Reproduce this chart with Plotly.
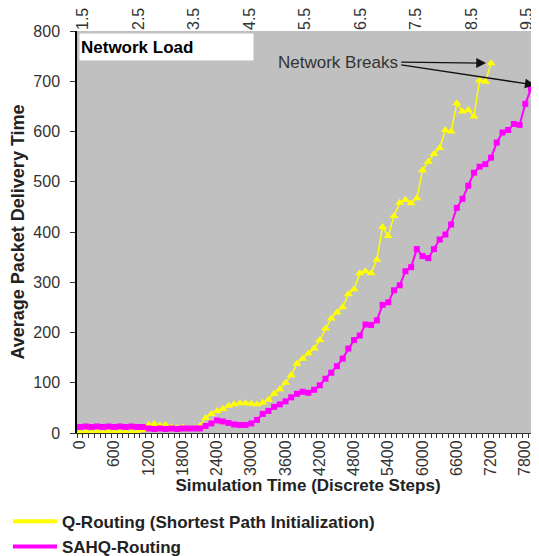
import plotly.graph_objects as go

# ---------------- data ----------------
steps_q = [0, 100, 200, 300, 400, 500, 600, 700, 800, 900,
           1000, 1100, 1200, 1300, 1400, 1500, 1600, 1700, 1800, 1900,
           2000, 2100, 2200, 2300, 2400, 2500, 2600, 2700, 2800, 2900,
           3000, 3100, 3200, 3300, 3400, 3500, 3600, 3700, 3800, 3900,
           4000, 4100, 4200, 4300, 4400, 4500, 4600, 4700, 4800, 4900,
           5000, 5100, 5200, 5300, 5400, 5500, 5600, 5700, 5800, 5900,
           6000, 6100, 6200, 6300, 6400, 6500, 6600, 6700, 6800, 6900,
           7000, 7100, 7200]
q_routing = [1, 3, 2, 3, 2, 3, 2, 3, 2, 3,
             3, 6, 16, 18, 15, 16, 12, 10, 11, 8,
             9, 14, 30, 38, 44, 48, 54, 57, 59, 59,
             58, 57, 60, 66, 78, 87, 100, 115, 138, 148,
             158, 168, 185, 208, 228, 240, 250, 276, 286, 318,
             322, 318, 345, 410, 392, 432, 458, 464, 457, 467,
             523, 540, 555, 567, 603, 600, 656, 640, 643, 630,
             702, 699, 736]

steps_s = [0, 100, 200, 300, 400, 500, 600, 700, 800, 900,
           1000, 1100, 1200, 1300, 1400, 1500, 1600, 1700, 1800, 1900,
           2000, 2100, 2200, 2300, 2400, 2500, 2600, 2700, 2800, 2900,
           3000, 3100, 3200, 3300, 3400, 3500, 3600, 3700, 3800, 3900,
           4000, 4100, 4200, 4300, 4400, 4500, 4600, 4700, 4800, 4900,
           5000, 5100, 5200, 5300, 5400, 5500, 5600, 5700, 5800, 5900,
           6000, 6100, 6200, 6300, 6400, 6500, 6600, 6700, 6800, 6900,
           7000, 7100, 7200, 7300, 7400, 7500, 7600, 7700, 7800, 7900,
           8000]
sahq_routing = [12, 13, 12, 13, 12, 13, 12, 13, 12, 13,
                12, 12, 9, 8, 9, 8, 9, 8, 9, 9,
                9, 9, 14, 19, 25, 23, 20, 17, 16, 16,
                19, 26, 38, 44, 52, 57, 63, 71, 78, 82,
                80, 86, 95, 108, 120, 133, 148, 168, 185, 194,
                216, 215, 224, 255, 260, 284, 294, 322, 330, 366,
                352, 348, 366, 385, 395, 415, 448, 466, 492, 518,
                530, 535, 548, 578, 598, 603, 615, 613, 655, 685,
                692]

time_ticks = [0, 600, 1200, 1800, 2400, 3000, 3600, 4200, 4800,
              5400, 6000, 6600, 7200, 7800]
load_ticks = [1.5, 2.5, 3.5, 4.5, 5.5, 6.5, 7.5, 8.5, 9.5]
y_ticks = [0, 100, 200, 300, 400, 500, 600, 700, 800]

series_names = ["Q-Routing (Shortest Path Initialization)", "SAHQ-Routing"]
colors = ["#FFFF00", "#FF00FF"]

FONT = "Arial, Liberation Sans, sans-serif"

fig = go.Figure()

fig.add_trace(go.Scatter(
    x=steps_q, y=q_routing, mode="lines+markers", name=series_names[0],
    line=dict(color=colors[0], width=1.5),
    marker=dict(symbol="triangle-up", size=8, color=colors[0]),
    cliponaxis=False, showlegend=False))
fig.add_trace(go.Scatter(
    x=steps_s, y=sahq_routing, mode="lines+markers", name=series_names[1],
    line=dict(color=colors[1], width=2),
    marker=dict(symbol="square", size=6, color=colors[1]),
    cliponaxis=False, showlegend=False))

# legend entries (thick line samples)
for nm, c in zip(series_names, colors):
    fig.add_trace(go.Scatter(x=[None], y=[None], mode="lines",
                             name="<b>" + nm + "</b>",
                             line=dict(color=c, width=4)))

# invisible trace to carry the top "Network Load" axis
fig.add_trace(go.Scatter(x=load_ticks, y=[None] * len(load_ticks), xaxis="x2",
                         mode="markers", showlegend=False, hoverinfo="skip"))

# annotations
fig.add_annotation(
    xref="paper", yref="paper", x=0.004, y=0.995, xanchor="left", yanchor="top",
    text="<b>Network Load</b>", showarrow=False, bgcolor="white",
    width=171, height=24, align="left",
    font=dict(family=FONT, size=17, color="black"))

fig.add_annotation(
    x=5600, y=738, xref="x", yref="y", xanchor="right", yanchor="middle",
    text="Network Breaks", showarrow=False,
    font=dict(family=FONT, size=17, color="#333"))

fig.add_annotation(
    x=steps_q[-1], y=q_routing[-1], xref="x", yref="y",
    ax=5600, ay=738, axref="x", ayref="y", text="",
    showarrow=True, arrowhead=2, arrowsize=1.4, arrowwidth=1.4,
    arrowcolor="#111", standoff=5)
fig.add_annotation(
    x=steps_s[-1], y=sahq_routing[-1], xref="x", yref="y",
    ax=5600, ay=733, axref="x", ayref="y", text="",
    showarrow=True, arrowhead=2, arrowsize=1.4, arrowwidth=1.4,
    arrowcolor="#111", standoff=2)

# the page body adds an 8px offset, so the paper is 8px smaller
fig.update_layout(
    width=531, height=548,
    margin=dict(l=69, r=0, t=23, b=123, autoexpand=False),
    paper_bgcolor="white", plot_bgcolor="#C0C0C0",
    font=dict(family=FONT, size=16, color="#222"),
    xaxis=dict(
        range=[-53, 8040], tickmode="array", tickvals=time_ticks,
        ticktext=[str(v) for v in time_ticks], tickangle=-90,
        ticks="", showgrid=False, zeroline=False, automargin=False,
        showline=True, linecolor="#333", linewidth=1,
        minor=dict(tick0=50, dtick=100, ticks="outside", ticklen=4,
                   tickcolor="#333", showgrid=False),
        tickfont=dict(size=16, color="#333"),
        title=dict(text="<b>Simulation Time (Discrete Steps)</b>",
                   font=dict(size=17, color="#222"), standoff=4)),
    xaxis2=dict(
        overlaying="x", side="top", anchor="y", automargin=False,
        range=[1.391, 9.718], tickmode="array", tickvals=load_ticks,
        ticktext=[str(v) for v in load_ticks], tickangle=-90,
        ticks="", showgrid=False, zeroline=False, showline=False,
        tickfont=dict(size=16, color="#333")),
    yaxis=dict(
        range=[0, 800], tickmode="array", tickvals=y_ticks,
        ticks="outside", ticklen=5, tickcolor="#333",
        ticklabelstandoff=7, automargin=False,
        showgrid=False, zeroline=False,
        showline=True, linecolor="black", linewidth=1.5,
        tickfont=dict(size=16, color="#333"),
        title=dict(text="<b>Average Packet Delivery Time</b>",
                   font=dict(size=18, color="#222"), standoff=8)),
    legend=dict(
        x=-0.1494, y=-0.176, xanchor="left", yanchor="top",
        itemwidth=44,
        bgcolor="rgba(0,0,0,0)", tracegroupgap=0,
        font=dict(family=FONT, size=17, color="#222")),
)

fig.write_html("out.html")
